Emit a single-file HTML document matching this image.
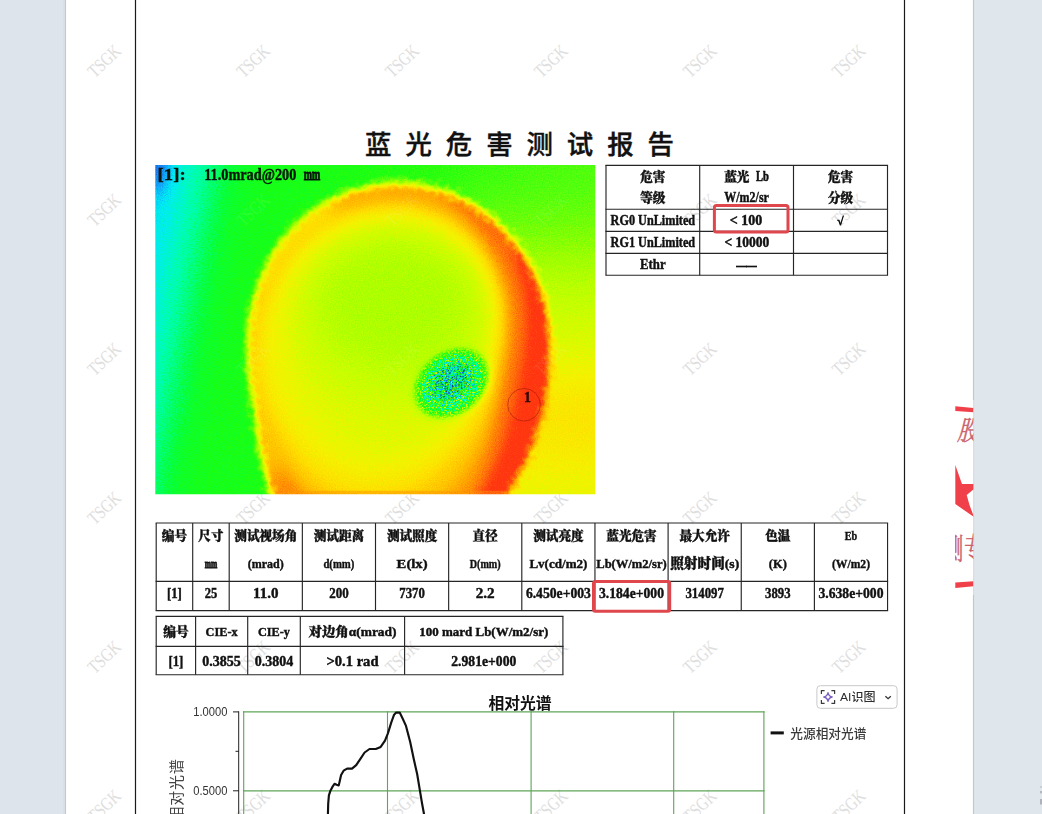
<!DOCTYPE html>
<html lang="zh-CN"><head><meta charset="utf-8"><title>蓝光危害测试报告</title>
<style>html,body{margin:0;padding:0;background:#dee4ec;}body{width:1042px;height:814px;overflow:hidden;position:relative;}svg{display:block;position:absolute;left:0;top:0;}text{white-space:pre;}</style></head><body>
<svg width="1042" height="814" viewBox="0 0 1042 814">

<rect x="0" y="0" width="1042" height="814" fill="#dee4ec"/>
<rect x="974" y="0" width="68" height="814" fill="#dfe6ec"/>
<rect x="63" y="0" width="2" height="814" fill="#dae0e6"/>
<rect x="64.9" y="0" width="1.2" height="814" fill="#c4cad0"/>
<rect x="66.1" y="0" width="906.9" height="814" fill="#ffffff"/>
<rect x="972.9" y="0" width="1.2" height="814" fill="#c0c8ca"/>
<rect x="1040" y="786" width="2" height="2" fill="#c9cdd4"/><rect x="1040" y="791" width="2" height="2.4" fill="#b3b8c0"/><rect x="1040" y="799" width="2" height="5.5" fill="#aeb3bb"/>
<line x1="135.5" y1="0" x2="135.5" y2="814" stroke="#1a1a1a" stroke-width="1.2"/>
<line x1="904.5" y1="0" x2="904.5" y2="814" stroke="#1a1a1a" stroke-width="1.2"/>
<g font-family='"Liberation Serif","Noto Serif CJK SC",serif' font-size="18.6" fill="#dedede" text-anchor="middle">
<text transform="translate(104.2,61.0) rotate(-43.5) scale(0.78,1)" y="6.2">TSGK</text>
<text transform="translate(253.1,61.0) rotate(-43.5) scale(0.78,1)" y="6.2">TSGK</text>
<text transform="translate(402.0,61.0) rotate(-43.5) scale(0.78,1)" y="6.2">TSGK</text>
<text transform="translate(550.9,61.0) rotate(-43.5) scale(0.78,1)" y="6.2">TSGK</text>
<text transform="translate(699.8,61.0) rotate(-43.5) scale(0.78,1)" y="6.2">TSGK</text>
<text transform="translate(848.7,61.0) rotate(-43.5) scale(0.78,1)" y="6.2">TSGK</text>
<text transform="translate(104.2,210.0) rotate(-43.5) scale(0.78,1)" y="6.2">TSGK</text>
<text transform="translate(253.1,210.0) rotate(-43.5) scale(0.78,1)" y="6.2">TSGK</text>
<text transform="translate(402.0,210.0) rotate(-43.5) scale(0.78,1)" y="6.2">TSGK</text>
<text transform="translate(550.9,210.0) rotate(-43.5) scale(0.78,1)" y="6.2">TSGK</text>
<text transform="translate(699.8,210.0) rotate(-43.5) scale(0.78,1)" y="6.2">TSGK</text>
<text transform="translate(848.7,210.0) rotate(-43.5) scale(0.78,1)" y="6.2">TSGK</text>
<text transform="translate(104.2,359.0) rotate(-43.5) scale(0.78,1)" y="6.2">TSGK</text>
<text transform="translate(253.1,359.0) rotate(-43.5) scale(0.78,1)" y="6.2">TSGK</text>
<text transform="translate(402.0,359.0) rotate(-43.5) scale(0.78,1)" y="6.2">TSGK</text>
<text transform="translate(550.9,359.0) rotate(-43.5) scale(0.78,1)" y="6.2">TSGK</text>
<text transform="translate(699.8,359.0) rotate(-43.5) scale(0.78,1)" y="6.2">TSGK</text>
<text transform="translate(848.7,359.0) rotate(-43.5) scale(0.78,1)" y="6.2">TSGK</text>
<text transform="translate(104.2,508.0) rotate(-43.5) scale(0.78,1)" y="6.2">TSGK</text>
<text transform="translate(253.1,508.0) rotate(-43.5) scale(0.78,1)" y="6.2">TSGK</text>
<text transform="translate(402.0,508.0) rotate(-43.5) scale(0.78,1)" y="6.2">TSGK</text>
<text transform="translate(550.9,508.0) rotate(-43.5) scale(0.78,1)" y="6.2">TSGK</text>
<text transform="translate(699.8,508.0) rotate(-43.5) scale(0.78,1)" y="6.2">TSGK</text>
<text transform="translate(848.7,508.0) rotate(-43.5) scale(0.78,1)" y="6.2">TSGK</text>
<text transform="translate(104.2,657.0) rotate(-43.5) scale(0.78,1)" y="6.2">TSGK</text>
<text transform="translate(253.1,657.0) rotate(-43.5) scale(0.78,1)" y="6.2">TSGK</text>
<text transform="translate(402.0,657.0) rotate(-43.5) scale(0.78,1)" y="6.2">TSGK</text>
<text transform="translate(550.9,657.0) rotate(-43.5) scale(0.78,1)" y="6.2">TSGK</text>
<text transform="translate(699.8,657.0) rotate(-43.5) scale(0.78,1)" y="6.2">TSGK</text>
<text transform="translate(848.7,657.0) rotate(-43.5) scale(0.78,1)" y="6.2">TSGK</text>
<text transform="translate(104.2,806.0) rotate(-43.5) scale(0.78,1)" y="6.2">TSGK</text>
<text transform="translate(253.1,806.0) rotate(-43.5) scale(0.78,1)" y="6.2">TSGK</text>
<text transform="translate(402.0,806.0) rotate(-43.5) scale(0.78,1)" y="6.2">TSGK</text>
<text transform="translate(550.9,806.0) rotate(-43.5) scale(0.78,1)" y="6.2">TSGK</text>
<text transform="translate(699.8,806.0) rotate(-43.5) scale(0.78,1)" y="6.2">TSGK</text>
<text transform="translate(848.7,806.0) rotate(-43.5) scale(0.78,1)" y="6.2">TSGK</text>
</g>
<text x="378.3" y="154" font-family='"Liberation Sans","Noto Sans CJK SC",sans-serif' font-size="26.4" font-weight="500" text-anchor="middle" fill="#111" stroke="#111" stroke-width="0.4">蓝</text>
<text x="418.7" y="154" font-family='"Liberation Sans","Noto Sans CJK SC",sans-serif' font-size="26.4" font-weight="500" text-anchor="middle" fill="#111" stroke="#111" stroke-width="0.4">光</text>
<text x="459.0" y="154" font-family='"Liberation Sans","Noto Sans CJK SC",sans-serif' font-size="26.4" font-weight="500" text-anchor="middle" fill="#111" stroke="#111" stroke-width="0.4">危</text>
<text x="499.4" y="154" font-family='"Liberation Sans","Noto Sans CJK SC",sans-serif' font-size="26.4" font-weight="500" text-anchor="middle" fill="#111" stroke="#111" stroke-width="0.4">害</text>
<text x="539.7" y="154" font-family='"Liberation Sans","Noto Sans CJK SC",sans-serif' font-size="26.4" font-weight="500" text-anchor="middle" fill="#111" stroke="#111" stroke-width="0.4">测</text>
<text x="580.0" y="154" font-family='"Liberation Sans","Noto Sans CJK SC",sans-serif' font-size="26.4" font-weight="500" text-anchor="middle" fill="#111" stroke="#111" stroke-width="0.4">试</text>
<text x="620.4" y="154" font-family='"Liberation Sans","Noto Sans CJK SC",sans-serif' font-size="26.4" font-weight="500" text-anchor="middle" fill="#111" stroke="#111" stroke-width="0.4">报</text>
<text x="660.8" y="154" font-family='"Liberation Sans","Noto Sans CJK SC",sans-serif' font-size="26.4" font-weight="500" text-anchor="middle" fill="#111" stroke="#111" stroke-width="0.4">告</text>
<svg x="155.3" y="165" width="440" height="329.2" viewBox="0 0 440 329" preserveAspectRatio="none" overflow="hidden">
<defs>
<linearGradient id="hbg" gradientUnits="userSpaceOnUse" x1="0" y1="0" x2="440" y2="84">
 <stop offset="0" stop-color="#242424"/>
 <stop offset="0.022" stop-color="#262626"/>
 <stop offset="0.055" stop-color="#2b2b2b"/>
 <stop offset="0.099" stop-color="#383838"/>
 <stop offset="0.143" stop-color="#464646"/>
 <stop offset="0.186" stop-color="#525252"/>
 <stop offset="0.23" stop-color="#575757"/>
 <stop offset="0.33" stop-color="#595959"/>
 <stop offset="0.55" stop-color="#5e5e5e"/>
 <stop offset="0.83" stop-color="#6a6a6a"/>
 <stop offset="1" stop-color="#6e6e6e"/>
</linearGradient>
<linearGradient id="eggfill" gradientUnits="userSpaceOnUse" x1="92" y1="0" x2="394" y2="0">
 <stop offset="0" stop-color="#c3c3c3"/>
 <stop offset="0.3" stop-color="#cccccc"/>
 <stop offset="0.55" stop-color="#d2d2d2"/>
 <stop offset="1" stop-color="#dbdbdb"/>
</linearGradient>
<linearGradient id="hright" x1="0" y1="0" x2="0" y2="1">
 <stop offset="0" stop-color="#6e6e6e" stop-opacity="0"/>
 <stop offset="0.11" stop-color="#787878" stop-opacity="0.6"/>
 <stop offset="0.26" stop-color="#8c8c8c"/>
 <stop offset="0.36" stop-color="#969696"/>
 <stop offset="0.44" stop-color="#9e9e9e"/>
 <stop offset="0.56" stop-color="#b2b2b2"/>
 <stop offset="0.66" stop-color="#b0b0b0"/>
 <stop offset="0.78" stop-color="#a3a3a3"/>
</linearGradient>
<radialGradient id="hblue">
 <stop offset="0" stop-color="#000000"/>
 <stop offset="0.3" stop-color="#080808" stop-opacity="0.95"/>
 <stop offset="0.65" stop-color="#1a1a1a" stop-opacity="0.5"/>
 <stop offset="1" stop-color="#262626" stop-opacity="0"/>
</radialGradient>
<radialGradient id="spotfade">
 <stop offset="0" stop-color="#000" stop-opacity="1"/>
 <stop offset="0.55" stop-color="#000" stop-opacity="0.95"/>
 <stop offset="0.8" stop-color="#000" stop-opacity="0.55"/>
 <stop offset="1" stop-color="#000" stop-opacity="0"/>
</radialGradient>
<filter id="b15" x="-10%" y="-10%" width="120%" height="120%" color-interpolation-filters="sRGB"><feGaussianBlur stdDeviation="1.5"/></filter><filter id="b3" x="-20%" y="-20%" width="140%" height="140%" color-interpolation-filters="sRGB"><feGaussianBlur stdDeviation="3"/></filter><filter id="b5" x="-30%" y="-30%" width="160%" height="160%" color-interpolation-filters="sRGB"><feGaussianBlur stdDeviation="5"/></filter><filter id="b7" x="-30%" y="-30%" width="160%" height="160%" color-interpolation-filters="sRGB"><feGaussianBlur stdDeviation="7"/></filter><filter id="b10" x="-40%" y="-40%" width="180%" height="180%" color-interpolation-filters="sRGB"><feGaussianBlur stdDeviation="10"/></filter><filter id="b16" x="-50%" y="-50%" width="200%" height="200%" color-interpolation-filters="sRGB"><feGaussianBlur stdDeviation="16"/></filter><filter id="b22" x="-60%" y="-60%" width="220%" height="220%" color-interpolation-filters="sRGB"><feGaussianBlur stdDeviation="22"/></filter>
<filter id="rough" filterUnits="userSpaceOnUse" x="60" y="-10" width="370" height="450" color-interpolation-filters="sRGB">
 <feTurbulence type="fractalNoise" baseFrequency="0.9" numOctaves="1" seed="7" result="n"/>
 <feDisplacementMap in="SourceGraphic" in2="n" scale="34" xChannelSelector="R" yChannelSelector="G"/>
 <feGaussianBlur stdDeviation="1.7"/>
</filter>
<filter id="spotnoise" x="-10%" y="-10%" width="120%" height="120%" color-interpolation-filters="sRGB">
 <feTurbulence type="fractalNoise" baseFrequency="0.72" numOctaves="2" seed="11" result="n"/>
 <feColorMatrix in="n" type="matrix" values="2.7 0 0 0 -1.05  2.7 0 0 0 -1.05  2.7 0 0 0 -1.05  0 0 0 0 1" result="c"/>
 <feComposite in="c" in2="SourceGraphic" operator="in"/>
</filter>
<filter id="spotnoise2" x="-10%" y="-10%" width="120%" height="120%" color-interpolation-filters="sRGB">
 <feTurbulence type="fractalNoise" baseFrequency="0.8" numOctaves="2" seed="29" result="n"/>
 <feColorMatrix in="n" type="matrix" values="0 2.6 0 0 -1.12  0 2.6 0 0 -1.12  0 2.6 0 0 -1.12  0 0 0 0 1" result="c"/>
 <feComposite in="c" in2="SourceGraphic" operator="in"/>
</filter>
<filter id="darkspeck" x="-10%" y="-10%" width="120%" height="120%" color-interpolation-filters="sRGB">
 <feTurbulence type="fractalNoise" baseFrequency="0.85" numOctaves="2" seed="41" result="n"/>
 <feColorMatrix in="n" type="matrix" values="0 0 0 0 0.05  0 0 0 0 0.22  0 0 0 0 0.34  0 0 9 0 -5.0" result="c"/>
 <feComposite in="c" in2="SourceGraphic" operator="in"/>
</filter>
<filter id="jet" filterUnits="userSpaceOnUse" x="0" y="0" width="440" height="329" color-interpolation-filters="sRGB">
 <feTurbulence type="fractalNoise" baseFrequency="0.85" numOctaves="1" seed="4" result="n"/>
 <feColorMatrix in="n" type="matrix" values="1 0 0 0 0  1 0 0 0 0  1 0 0 0 0  0 0 0 0 1" result="ng"/>
 <feComposite in="SourceGraphic" in2="ng" operator="arithmetic" k1="0" k2="1" k3="0.11" k4="-0.055" result="f"/>
 <feComponentTransfer in="f">
  <feFuncR type="table" tableValues="0.125 0.110 0.094 0.078 0.063 0.042 0.021 0.000 0.000 0.000 0.000 0.000 0.008 0.016 0.024 0.031 0.058 0.084 0.110 0.171 0.231 0.292 0.353 0.422 0.490 0.559 0.627 0.680 0.732 0.784 0.830 0.876 0.922 0.960 0.973 0.987 1.000 1.000 1.000 1.000 1.000 1.000 1.000 1.000 1.000 1.000 1.000 1.000 1.000 1.000 1.000"/>
  <feFuncG type="table" tableValues="0.376 0.449 0.522 0.594 0.667 0.753 0.839 0.925 0.944 0.963 0.981 1.000 1.000 1.000 1.000 1.000 1.000 1.000 1.000 1.000 1.000 1.000 1.000 1.000 1.000 1.000 1.000 1.000 1.000 1.000 0.988 0.977 0.965 0.950 0.921 0.892 0.863 0.824 0.784 0.745 0.706 0.667 0.627 0.569 0.510 0.451 0.392 0.345 0.298 0.251 0.204"/>
  <feFuncB type="table" tableValues="0.910 0.925 0.941 0.957 0.973 0.967 0.962 0.957 0.884 0.812 0.739 0.667 0.555 0.443 0.331 0.220 0.167 0.115 0.063 0.059 0.055 0.051 0.047 0.035 0.024 0.012 0.000 0.000 0.000 0.000 0.000 0.000 0.000 0.000 0.000 0.000 0.000 0.000 0.000 0.000 0.000 0.000 0.000 0.012 0.024 0.035 0.047 0.051 0.055 0.059 0.063"/>
 </feComponentTransfer>
</filter>
<clipPath id="eggclip"><path d="M93.5,205.0 C92.5,193.8 92.7,199.5 92.4,188.0 C92.1,176.6 91.9,182.3 92.5,170.7 C93.2,159.0 92.5,164.8 94.3,153.0 C96.2,141.1 94.9,147.0 98.0,135.2 C101.0,123.3 99.1,129.1 103.5,117.3 C107.8,105.5 105.3,111.3 111.0,99.7 C116.7,88.2 113.4,93.7 120.7,82.7 C128.0,71.8 124.0,76.8 132.8,66.9 C141.7,56.9 137.0,61.4 147.3,52.8 C157.7,44.1 152.3,48.0 164.0,40.9 C175.6,33.8 169.7,36.9 182.3,31.4 C194.9,26.0 188.5,28.2 201.8,24.5 C215.1,20.7 208.4,22.0 222.2,20.1 C235.9,18.1 229.1,18.6 243.0,18.6 C256.9,18.6 250.1,18.1 263.8,20.1 C277.5,22.2 270.9,20.7 284.1,24.8 C297.3,28.8 291.0,26.4 303.4,32.3 C315.8,38.2 310.0,34.9 321.3,42.4 C332.7,49.8 327.3,45.9 337.5,54.6 C347.6,63.4 342.9,58.8 351.8,68.6 C360.6,78.4 356.5,73.4 364.0,84.0 C371.5,94.6 368.1,89.2 374.2,100.4 C380.2,111.6 377.5,106.0 382.2,117.5 C386.9,129.1 384.9,123.3 388.2,135.1 C391.5,146.9 390.1,141.0 392.1,152.8 C394.2,164.6 393.4,158.8 394.3,170.5 C395.2,182.2 395.0,176.4 394.9,187.9 C394.8,199.4 395.0,193.7 394.1,205.0 C393.2,216.3 393.8,210.7 392.2,221.8 C390.6,232.9 391.6,227.4 389.3,238.4 C387.0,249.4 388.3,243.9 385.4,254.8 C382.4,265.8 384.1,260.3 380.5,271.2 C376.8,282.1 378.9,276.7 374.4,287.5 C369.9,298.4 372.4,293.0 366.9,303.8 C361.5,314.7 364.5,309.3 358.0,320.0 C351.5,330.7 355.1,325.5 347.4,335.9 C339.7,346.3 343.9,341.3 334.9,351.3 C326.0,361.3 330.8,356.6 320.5,365.9 C310.2,375.3 315.7,371.0 304.0,379.3 C292.3,387.6 298.4,384.0 285.4,390.9 C272.4,397.8 279.1,395.0 265.0,399.9 C250.8,404.8 257.9,403.2 243.0,405.6 C228.1,408.0 235.4,407.7 220.2,407.2 C205.1,406.8 212.3,407.8 197.5,404.3 C182.8,400.7 189.6,403.2 176.0,396.6 C162.3,390.0 168.5,393.8 156.5,384.5 C144.6,375.2 149.9,380.1 140.1,368.8 C130.3,357.4 134.6,363.1 127.0,350.4 C119.4,337.7 122.8,343.9 117.3,330.7 C111.8,317.4 114.3,323.8 110.5,310.6 C106.7,297.5 108.5,303.8 105.9,291.1 C103.3,278.4 104.6,284.6 102.7,272.6 C100.7,260.5 101.7,266.5 100.0,255.0 C98.4,243.6 99.2,249.3 97.6,238.2 C96.1,227.0 96.8,232.7 95.4,221.6 C94.0,210.6 94.5,216.2 93.5,205.0 Z"/></clipPath>
</defs>
<g filter="url(#jet)">
<rect x="-5" y="-5" width="450" height="340" fill="url(#hbg)"/>
<rect x="305" y="0" width="200" height="420" fill="url(#hright)" filter="url(#b16)"/>
<ellipse cx="0" cy="2" rx="27" ry="50" fill="url(#hblue)"/>
<ellipse cx="-8" cy="30" rx="20" ry="58" fill="#1c1c1c" opacity="0.25" filter="url(#b10)"/>
<g filter="url(#rough)">
<path d="M93.5,205.0 C92.5,193.8 92.7,199.5 92.4,188.0 C92.1,176.6 91.9,182.3 92.5,170.7 C93.2,159.0 92.5,164.8 94.3,153.0 C96.2,141.1 94.9,147.0 98.0,135.2 C101.0,123.3 99.1,129.1 103.5,117.3 C107.8,105.5 105.3,111.3 111.0,99.7 C116.7,88.2 113.4,93.7 120.7,82.7 C128.0,71.8 124.0,76.8 132.8,66.9 C141.7,56.9 137.0,61.4 147.3,52.8 C157.7,44.1 152.3,48.0 164.0,40.9 C175.6,33.8 169.7,36.9 182.3,31.4 C194.9,26.0 188.5,28.2 201.8,24.5 C215.1,20.7 208.4,22.0 222.2,20.1 C235.9,18.1 229.1,18.6 243.0,18.6 C256.9,18.6 250.1,18.1 263.8,20.1 C277.5,22.2 270.9,20.7 284.1,24.8 C297.3,28.8 291.0,26.4 303.4,32.3 C315.8,38.2 310.0,34.9 321.3,42.4 C332.7,49.8 327.3,45.9 337.5,54.6 C347.6,63.4 342.9,58.8 351.8,68.6 C360.6,78.4 356.5,73.4 364.0,84.0 C371.5,94.6 368.1,89.2 374.2,100.4 C380.2,111.6 377.5,106.0 382.2,117.5 C386.9,129.1 384.9,123.3 388.2,135.1 C391.5,146.9 390.1,141.0 392.1,152.8 C394.2,164.6 393.4,158.8 394.3,170.5 C395.2,182.2 395.0,176.4 394.9,187.9 C394.8,199.4 395.0,193.7 394.1,205.0 C393.2,216.3 393.8,210.7 392.2,221.8 C390.6,232.9 391.6,227.4 389.3,238.4 C387.0,249.4 388.3,243.9 385.4,254.8 C382.4,265.8 384.1,260.3 380.5,271.2 C376.8,282.1 378.9,276.7 374.4,287.5 C369.9,298.4 372.4,293.0 366.9,303.8 C361.5,314.7 364.5,309.3 358.0,320.0 C351.5,330.7 355.1,325.5 347.4,335.9 C339.7,346.3 343.9,341.3 334.9,351.3 C326.0,361.3 330.8,356.6 320.5,365.9 C310.2,375.3 315.7,371.0 304.0,379.3 C292.3,387.6 298.4,384.0 285.4,390.9 C272.4,397.8 279.1,395.0 265.0,399.9 C250.8,404.8 257.9,403.2 243.0,405.6 C228.1,408.0 235.4,407.7 220.2,407.2 C205.1,406.8 212.3,407.8 197.5,404.3 C182.8,400.7 189.6,403.2 176.0,396.6 C162.3,390.0 168.5,393.8 156.5,384.5 C144.6,375.2 149.9,380.1 140.1,368.8 C130.3,357.4 134.6,363.1 127.0,350.4 C119.4,337.7 122.8,343.9 117.3,330.7 C111.8,317.4 114.3,323.8 110.5,310.6 C106.7,297.5 108.5,303.8 105.9,291.1 C103.3,278.4 104.6,284.6 102.7,272.6 C100.7,260.5 101.7,266.5 100.0,255.0 C98.4,243.6 99.2,249.3 97.6,238.2 C96.1,227.0 96.8,232.7 95.4,221.6 C94.0,210.6 94.5,216.2 93.5,205.0 Z" fill="url(#eggfill)"/>
<g clip-path="url(#eggclip)">
<path d="M285.5,18.9 C292.6,19.4 292.6,20.6 305.4,26.6 C318.2,32.6 312.2,29.3 323.9,37.0 C335.7,44.6 330.2,40.6 340.7,49.5 C351.2,58.5 346.3,53.9 355.5,63.9 C364.7,74.0 360.5,68.8 368.3,79.7 C376.0,90.7 372.5,85.1 378.9,96.7 C385.2,108.2 382.4,102.4 387.3,114.3 C392.2,126.3 390.1,120.3 393.6,132.5 C397.1,144.7 395.6,138.6 397.8,150.8 C400.0,163.0 399.1,157.0 400.2,169.1 C401.2,181.3 400.9,175.3 400.8,187.2 C400.8,199.2 401.0,193.2 400.1,205.0 C399.2,216.8 399.8,210.9 398.2,222.5 C396.5,234.1 397.5,228.3 395.1,239.7 C392.8,251.2 394.1,245.4 391.1,256.8 C388.0,268.2 389.7,262.5 385.9,273.8 C382.0,285.1 384.2,279.5 379.4,290.7 C374.7,302.0 377.4,296.4 371.6,307.6 C365.9,318.7 369.1,313.2 362.2,324.2 C355.4,335.2 359.2,329.9 351.1,340.6 C343.1,351.3 347.5,346.1 338.1,356.4 C328.8,366.6 333.8,361.8 323.1,371.3 C312.4,380.9 318.1,376.5 306.0,385.0 C293.9,393.5 300.2,389.8 286.8,396.7 C273.3,403.7 280.2,400.9 265.6,405.9 C251.0,410.8 258.4,409.2 243.0,411.6 C227.6,414.0 227.1,415.2 219.5,413.2 C212.0,411.1 212.6,411.0 220.4,405.4 C228.2,399.9 228.7,403.3 243.0,396.6 C257.3,389.8 250.6,393.6 263.3,385.2 C276.0,376.9 270.1,381.2 281.0,371.5 C291.9,361.8 286.9,366.7 295.9,356.2 C304.9,345.8 300.8,350.9 308.1,340.1 C315.4,329.4 312.0,334.6 317.7,323.9 C323.4,313.2 320.8,318.4 325.2,308.0 C329.5,297.7 327.5,302.7 330.8,292.8 C334.1,282.9 332.5,287.7 335.0,278.4 C337.4,269.0 336.3,273.6 338.1,264.8 C340.0,256.0 339.0,260.3 340.5,252.0 C342.0,243.7 341.3,247.8 342.6,239.8 C343.9,231.9 343.2,235.9 344.5,228.2 C345.9,220.4 345.2,224.4 346.5,216.7 C347.9,208.9 347.2,212.9 348.6,205.0 C349.9,197.1 349.3,201.2 350.6,192.9 C351.8,184.6 351.3,188.9 352.2,180.1 C353.1,171.3 352.9,175.8 353.2,166.4 C353.5,157.1 353.6,161.9 353.2,151.9 C352.7,142.0 353.3,147.1 351.8,136.7 C350.3,126.3 351.4,131.5 348.7,120.7 C346.0,110.0 347.7,115.3 343.6,104.4 C339.6,93.4 342.0,98.8 336.5,87.8 C330.9,76.8 334.1,82.2 327.0,71.4 C319.8,60.6 323.8,65.8 315.0,55.4 C306.2,45.1 311.0,50.4 300.6,40.3 C290.3,30.2 289.1,32.4 284.0,25.3 C279.0,18.2 278.3,18.5 285.5,18.9 Z" fill="#e8e8e8" filter="url(#b7)"/>
<path d="M368.3,79.7 C374.8,82.4 372.5,85.1 378.9,96.7 C385.2,108.2 382.4,102.4 387.3,114.3 C392.2,126.3 390.1,120.3 393.6,132.5 C397.1,144.7 395.6,138.6 397.8,150.8 C400.0,163.0 399.1,157.0 400.2,169.1 C401.2,181.3 400.9,175.3 400.8,187.2 C400.8,199.2 401.0,193.2 400.1,205.0 C399.2,216.8 399.8,210.9 398.2,222.5 C396.5,234.1 397.5,228.3 395.1,239.7 C392.8,251.2 394.1,245.4 391.1,256.8 C388.0,268.2 389.7,262.5 385.9,273.8 C382.0,285.1 384.2,279.5 379.4,290.7 C374.7,302.0 377.4,296.4 371.6,307.6 C365.9,318.7 369.1,313.2 362.2,324.2 C355.4,335.2 359.2,329.9 351.1,340.6 C343.1,351.3 347.5,346.1 338.1,356.4 C328.8,366.6 333.8,361.8 323.1,371.3 C312.4,380.9 318.1,376.5 306.0,385.0 C293.9,393.5 300.2,389.8 286.8,396.7 C273.3,403.7 280.2,400.9 265.6,405.9 C251.0,410.8 250.5,414.0 243.0,411.6 C235.5,409.2 236.1,406.4 243.0,398.7 C249.9,390.9 250.6,395.8 263.6,388.3 C276.7,380.7 270.6,384.7 282.0,375.9 C293.4,367.2 288.1,371.6 297.9,362.0 C307.8,352.4 303.2,357.2 311.5,347.2 C319.7,337.1 315.9,342.1 322.7,331.9 C329.5,321.7 326.4,326.7 332.0,316.5 C337.5,306.4 334.9,311.4 339.5,301.5 C344.0,291.6 341.9,296.4 345.6,286.8 C349.2,277.1 347.5,281.9 350.5,272.5 C353.5,263.2 352.1,267.8 354.6,258.7 C357.1,249.6 355.9,254.2 358.0,245.3 C360.2,236.3 359.1,240.8 361.1,232.0 C363.1,223.1 362.1,227.6 364.0,218.6 C365.8,209.6 365.0,214.3 366.6,205.0 C368.2,195.7 367.5,200.5 368.8,190.8 C370.1,181.1 369.7,186.1 370.4,175.9 C371.2,165.7 371.1,170.9 371.1,160.2 C371.1,149.4 371.4,154.9 370.5,143.6 C369.6,132.3 370.3,138.1 368.4,126.2 C366.4,114.4 367.6,120.5 364.6,108.1 C361.5,95.6 358.0,98.2 359.2,88.8 C360.5,79.3 361.7,77.1 368.3,79.7 Z" fill="#ffffff" filter="url(#b3)"/>
<ellipse cx="118" cy="92" rx="52" ry="78" transform="rotate(38 118 92)" fill="#b6b6b6" filter="url(#b10)"/>
<ellipse cx="100" cy="190" rx="22" ry="70" fill="#bebebe" filter="url(#b7)" opacity="0.8"/>
<ellipse cx="150" cy="348" rx="50" ry="52" fill="#dedede" filter="url(#b10)"/>
<path d="M98.5,205.0 C97.3,194.2 97.6,199.6 97.5,188.6 C97.4,177.6 97.1,183.1 98.1,171.9 C99.1,160.8 98.2,166.3 100.5,155.1 C102.8,144.0 101.3,149.5 104.8,138.5 C108.4,127.5 106.3,132.8 111.1,122.1 C115.8,111.4 113.1,116.5 119.2,106.2 C125.2,95.9 121.8,100.8 129.2,91.2 C136.6,81.6 132.6,86.0 141.3,77.5 C150.0,68.9 145.4,72.8 155.3,65.5 C165.3,58.2 160.2,61.5 171.1,55.6 C182.0,49.8 176.4,52.4 188.0,47.9 C199.6,43.5 193.8,45.3 205.9,42.3 C217.9,39.3 211.9,40.4 224.3,38.8 C236.7,37.2 230.5,37.4 243.0,37.6 C255.5,37.8 249.5,37.0 261.7,39.4 C273.8,41.8 268.1,40.1 279.6,44.8 C291.0,49.5 285.7,46.8 296.0,53.4 C306.4,60.1 301.7,56.5 310.5,64.7 C319.4,73.0 315.4,68.8 322.7,78.1 C330.0,87.5 326.8,82.8 332.4,92.9 C338.0,103.0 335.6,98.0 339.6,108.4 C343.6,118.8 341.9,113.7 344.5,124.1 C347.1,134.4 346.0,129.4 347.3,139.5 C348.6,149.5 348.1,144.7 348.4,154.3 C348.7,163.8 348.6,159.2 348.1,168.2 C347.7,177.2 347.9,172.8 347.1,181.2 C346.2,189.7 346.6,185.5 345.6,193.4 C344.6,201.4 345.1,197.4 344.1,205.0 C343.1,212.6 343.7,208.8 342.5,216.2 C341.3,223.6 341.9,219.9 340.4,227.2 C338.9,234.6 339.8,230.9 338.0,238.2 C336.2,245.6 337.2,241.9 335.1,249.3 C332.9,256.8 334.2,253.0 331.6,260.6 C328.9,268.3 330.4,264.4 327.2,272.2 C324.0,279.9 325.9,276.1 321.9,283.9 C318.0,291.8 320.2,287.9 315.5,295.9 C310.7,303.8 313.4,299.9 307.6,307.8 C301.8,315.6 305.0,311.9 298.1,319.4 C291.2,327.0 295.0,323.5 286.9,330.5 C278.8,337.4 283.1,334.4 273.9,340.3 C264.6,346.2 269.4,343.8 259.1,348.3 C248.8,352.7 254.1,351.0 243.0,353.6 C231.9,356.2 237.4,355.4 226.0,356.1 C214.5,356.9 220.1,357.1 208.6,355.8 C197.1,354.6 202.5,355.7 191.4,352.3 C180.3,349.0 185.5,351.1 175.3,345.6 C165.0,340.2 169.8,343.2 160.7,336.0 C151.6,328.8 155.8,332.6 148.1,324.1 C140.3,315.6 143.9,319.8 137.5,310.5 C131.0,301.2 134.1,305.8 128.7,296.1 C123.4,286.4 125.9,291.3 121.4,281.4 C116.9,271.5 119.1,276.5 115.1,266.6 C111.2,256.7 113.1,261.7 109.6,251.7 C106.1,241.7 107.7,246.8 104.8,236.5 C101.9,226.3 103.0,231.5 100.9,221.0 C98.8,210.5 99.6,215.8 98.5,205.0 Z" fill="#c2c2c2" filter="url(#b5)"/>
<path d="M104.5,205.0 C103.2,194.7 103.6,199.9 103.5,189.3 C103.3,178.7 103.1,184.0 104.0,173.3 C105.0,162.6 104.2,167.9 106.4,157.2 C108.6,146.5 107.2,151.8 110.6,141.2 C114.0,130.7 112.0,135.9 116.6,125.6 C121.3,115.3 118.6,120.3 124.5,110.5 C130.3,100.7 127.0,105.3 134.2,96.2 C141.3,87.0 137.4,91.2 145.8,83.1 C154.2,75.0 149.8,78.7 159.3,71.8 C168.8,64.9 163.9,68.0 174.4,62.5 C184.8,57.0 179.5,59.4 190.6,55.3 C201.7,51.1 196.1,52.9 207.6,50.0 C219.1,47.2 213.4,48.2 225.2,46.7 C237.0,45.3 231.1,45.4 243.0,45.6 C254.9,45.8 249.2,45.0 260.8,47.4 C272.3,49.8 266.9,48.1 277.7,52.8 C288.6,57.4 283.6,54.8 293.3,61.4 C302.9,68.0 298.5,64.5 306.7,72.6 C314.9,80.8 311.3,76.6 317.9,85.9 C324.4,95.1 321.6,90.5 326.4,100.4 C331.3,110.2 329.3,105.4 332.5,115.5 C335.8,125.5 334.5,120.6 336.3,130.6 C338.2,140.5 337.5,135.7 338.1,145.2 C338.7,154.8 338.5,150.2 338.2,159.1 C338.0,168.1 338.1,163.8 337.2,172.0 C336.3,180.3 336.7,176.3 335.6,183.9 C334.4,191.5 334.9,187.7 333.7,194.8 C332.6,201.8 333.2,198.3 332.1,205.0 C331.0,211.7 331.7,208.4 330.4,214.8 C329.0,221.3 329.8,218.1 328.1,224.4 C326.3,230.7 327.3,227.6 325.2,233.8 C323.2,240.0 324.3,236.9 321.9,243.0 C319.5,249.1 320.8,246.0 318.0,252.1 C315.3,258.3 316.8,255.2 313.6,261.3 C310.4,267.4 312.2,264.3 308.5,270.5 C304.8,276.7 306.9,273.6 302.6,279.8 C298.4,286.0 300.7,282.9 295.8,289.1 C291.0,295.3 293.6,292.3 288.0,298.4 C282.3,304.5 285.4,301.6 278.8,307.4 C272.2,313.1 275.8,310.5 268.2,315.6 C260.7,320.7 264.7,318.6 256.3,322.6 C247.8,326.6 252.1,324.9 243.0,327.6 C233.9,330.2 238.5,329.2 228.9,330.5 C219.2,331.8 224.0,331.7 214.1,331.4 C204.3,331.2 209.0,331.8 199.3,329.9 C189.6,327.9 194.2,329.3 184.9,325.6 C175.7,321.9 180.0,324.1 171.5,318.8 C163.0,313.5 167.0,316.3 159.4,309.8 C151.8,303.3 155.4,306.6 148.8,299.2 C142.1,291.8 145.3,295.6 139.5,287.5 C133.7,279.5 136.5,283.6 131.3,275.2 C126.1,266.8 128.6,271.1 123.9,262.3 C119.3,253.6 121.4,258.1 117.3,249.0 C113.2,239.9 115.0,244.5 111.6,235.0 C108.2,225.4 109.5,230.3 107.1,220.3 C104.7,210.3 105.7,215.3 104.5,205.0 Z" fill="#b2b2b2" filter="url(#b7)"/>
<path d="M112.5,205.0 C111.2,195.3 111.6,200.2 111.4,190.2 C111.2,180.2 111.0,185.2 111.8,175.1 C112.7,164.9 111.9,170.0 113.9,159.8 C115.9,149.7 114.6,154.7 117.8,144.7 C121.0,134.7 119.1,139.6 123.4,129.9 C127.7,120.1 125.3,124.8 130.7,115.5 C136.2,106.1 133.1,110.5 139.8,101.8 C146.5,93.1 142.9,97.1 150.8,89.4 C158.7,81.6 154.5,85.1 163.6,78.6 C172.6,72.0 168.0,75.0 177.9,69.7 C187.8,64.5 182.7,66.8 193.3,62.8 C203.8,58.9 198.5,60.5 209.4,57.8 C220.3,55.1 214.9,56.1 226.1,54.7 C237.3,53.3 231.7,53.3 243.0,53.6 C254.3,53.8 248.9,53.0 259.9,55.4 C270.8,57.8 265.7,56.1 275.9,60.8 C286.1,65.4 281.5,62.8 290.5,69.3 C299.5,75.9 295.4,72.4 302.9,80.5 C310.5,88.6 307.2,84.5 313.0,93.6 C318.8,102.7 316.3,98.2 320.5,107.8 C324.6,117.5 322.9,112.8 325.5,122.5 C328.0,132.3 327.0,127.6 328.2,137.1 C329.3,146.6 328.9,142.0 328.9,151.0 C328.9,160.0 329.0,155.7 328.1,164.0 C327.2,172.3 327.7,168.4 326.3,175.8 C325.0,183.3 325.5,179.7 324.0,186.5 C322.6,193.3 323.1,190.0 321.8,196.1 C320.5,202.3 321.3,199.2 320.1,205.0 C318.9,210.8 319.8,208.0 318.2,213.5 C316.7,219.0 317.6,216.3 315.5,221.5 C313.4,226.8 314.5,224.2 312.0,229.2 C309.5,234.1 310.8,231.7 308.0,236.3 C305.2,240.9 306.7,238.7 303.6,243.1 C300.5,247.4 302.1,245.3 298.8,249.5 C295.4,253.7 297.1,251.5 293.7,255.7 C290.2,259.8 292.0,257.7 288.3,261.8 C284.6,265.9 286.6,263.8 282.6,268.0 C278.6,272.2 280.8,270.1 276.4,274.4 C272.1,278.7 274.4,276.6 269.6,280.9 C264.7,285.2 267.3,283.2 261.8,287.2 C256.2,291.3 259.2,289.6 252.9,293.0 C246.7,296.5 249.9,294.9 243.0,297.6 C236.1,300.3 239.7,299.1 232.2,301.0 C224.7,302.9 228.5,302.3 220.6,303.3 C212.7,304.2 216.6,304.1 208.4,303.8 C200.3,303.5 204.2,304.0 196.1,302.3 C188.0,300.6 191.9,301.7 184.1,298.7 C176.4,295.6 180.1,297.3 172.8,293.0 C165.5,288.8 169.0,291.1 162.2,285.8 C155.4,280.5 158.7,283.3 152.4,277.2 C146.1,271.2 149.2,274.3 143.3,267.6 C137.5,260.9 140.3,264.4 134.9,257.1 C129.5,249.7 131.9,253.6 127.1,245.5 C122.3,237.5 124.4,241.7 120.5,233.0 C116.5,224.3 118.0,228.7 115.4,219.4 C112.7,210.1 113.8,214.7 112.5,205.0 Z" fill="#a7a7a7" filter="url(#b10)"/>
<ellipse cx="232" cy="190" rx="92" ry="105" fill="#9e9e9e" filter="url(#b16)"/>
<ellipse cx="238" cy="152" rx="98" ry="90" fill="#959595" filter="url(#b16)"/>
<ellipse cx="238" cy="140" rx="74" ry="62" fill="#8a8a8a" filter="url(#b16)"/>
</g>
</g>
<rect x="120" y="325.5" width="232" height="4" fill="#dbdbdb" opacity="0.55" clip-path="url(#eggclip)"/>
<g transform="rotate(-38 296 218)">
<ellipse cx="296" cy="218" rx="41" ry="31" fill="#808080" filter="url(#b5)"/>
<ellipse cx="296" cy="218" rx="32" ry="24" fill="#545454" filter="url(#b5)" opacity="0.9"/>
<ellipse cx="296" cy="218" rx="43" ry="33" fill="url(#spotfade)" filter="url(#spotnoise)"/>
<ellipse cx="297" cy="216" rx="24" ry="17" fill="url(#spotfade)" filter="url(#spotnoise2)" opacity="0.85"/>
</g>
</g>
<g transform="rotate(-38 296 218)"><ellipse cx="297" cy="216" rx="27" ry="19" fill="url(#spotfade)" filter="url(#darkspeck)"/></g>
<g font-family='"Liberation Serif","Noto Serif CJK SC",serif' font-size="18.6" fill="#fff" text-anchor="middle" opacity="0.09">
<text transform="translate(97.8,45) rotate(-43.5) scale(0.78,1)" y="6.2">TSGK</text>
<text transform="translate(246.7,45) rotate(-43.5) scale(0.78,1)" y="6.2">TSGK</text>
<text transform="translate(395.6,45) rotate(-43.5) scale(0.78,1)" y="6.2">TSGK</text>
<text transform="translate(97.8,194) rotate(-43.5) scale(0.78,1)" y="6.2">TSGK</text>
<text transform="translate(246.7,194) rotate(-43.5) scale(0.78,1)" y="6.2">TSGK</text>
<text transform="translate(395.6,194) rotate(-43.5) scale(0.78,1)" y="6.2">TSGK</text>
</g>
<circle cx="368.7" cy="239.6" r="16.3" fill="none" stroke="#8c1408" stroke-width="0.9" opacity="0.55"/>
<text x="372.3" y="236.5" font-family='"Liberation Serif","Noto Serif CJK SC",serif' font-size="14" font-weight="bold" text-anchor="middle" fill="#2a0a08" stroke="#2a0a08" stroke-width="0.4">1</text>
<text x="2.3" y="14.5" font-family='"Liberation Serif","Noto Serif CJK SC",serif' font-size="16" font-weight="bold" fill="#06140a" stroke="#06140a" stroke-width="0.35" textLength="28" lengthAdjust="spacingAndGlyphs">[1]:</text>
<text x="49" y="14.5" font-family='"Liberation Serif","Noto Serif CJK SC",serif' font-size="16" font-weight="bold" fill="#06140a" stroke="#06140a" stroke-width="0.35" textLength="92" lengthAdjust="spacingAndGlyphs">11.0mrad@200</text>
<text x="148.5" y="14.5" font-family='"Liberation Serif","Noto Serif CJK SC",serif' font-size="16" font-weight="bold" fill="#06140a" stroke="#06140a" stroke-width="0.35" textLength="16.5" lengthAdjust="spacingAndGlyphs" style="stroke-width:0.9">mm</text>
</svg>
<line x1="605.425" y1="165.3" x2="888.075" y2="165.3" stroke="#262626" stroke-width="1.15"/>
<line x1="605.425" y1="209.2" x2="888.075" y2="209.2" stroke="#262626" stroke-width="1.15"/>
<line x1="605.425" y1="231.4" x2="888.075" y2="231.4" stroke="#262626" stroke-width="1.15"/>
<line x1="605.425" y1="253.3" x2="888.075" y2="253.3" stroke="#262626" stroke-width="1.15"/>
<line x1="605.425" y1="275.2" x2="888.075" y2="275.2" stroke="#262626" stroke-width="1.15"/>
<line x1="606" y1="165.3" x2="606" y2="275.2" stroke="#262626" stroke-width="1.15"/>
<line x1="699.7" y1="165.3" x2="699.7" y2="275.2" stroke="#262626" stroke-width="1.15"/>
<line x1="793.5" y1="165.3" x2="793.5" y2="275.2" stroke="#262626" stroke-width="1.15"/>
<line x1="887.5" y1="165.3" x2="887.5" y2="275.2" stroke="#262626" stroke-width="1.15"/>
<text x="652.85" y="181.2" font-family='"Liberation Serif","Noto Serif CJK SC",serif' font-size="12.6" font-weight="900" text-anchor="middle" fill="#111" stroke="#111" stroke-width="0.42">危害</text>
<text x="652.85" y="202.1" font-family='"Liberation Serif","Noto Serif CJK SC",serif' font-size="12.6" font-weight="900" text-anchor="middle" fill="#111" stroke="#111" stroke-width="0.42">等级</text>
<text x="736.8" y="181.2" font-family='"Liberation Serif","Noto Serif CJK SC",serif' font-size="12.6" font-weight="900" text-anchor="middle" fill="#111" stroke="#111" stroke-width="0.42">蓝光</text>
<text x="762.4" y="181.2" font-family='"Liberation Serif","Noto Serif CJK SC",serif' font-size="13.6" font-weight="900" text-anchor="middle" fill="#111" textLength="12.8" lengthAdjust="spacingAndGlyphs" stroke="#111" stroke-width="0.6">Lb</text>
<text x="746.6" y="202.1" font-family='"Liberation Serif","Noto Serif CJK SC",serif' font-size="13.6" font-weight="900" text-anchor="middle" fill="#111" textLength="44.5" lengthAdjust="spacingAndGlyphs" stroke="#111" stroke-width="0.42">W/m2/sr</text>
<text x="840.5" y="181.2" font-family='"Liberation Serif","Noto Serif CJK SC",serif' font-size="12.6" font-weight="900" text-anchor="middle" fill="#111" stroke="#111" stroke-width="0.42">危害</text>
<text x="840.5" y="202.1" font-family='"Liberation Serif","Noto Serif CJK SC",serif' font-size="12.6" font-weight="900" text-anchor="middle" fill="#111" stroke="#111" stroke-width="0.42">分级</text>
<text x="652.85" y="225.0" font-family='"Liberation Serif","Noto Serif CJK SC",serif' font-size="13.6" font-weight="900" text-anchor="middle" fill="#111" textLength="84.5" lengthAdjust="spacingAndGlyphs" stroke="#111" stroke-width="0.42">RG0 UnLimited</text>
<text x="652.85" y="247.1" font-family='"Liberation Serif","Noto Serif CJK SC",serif' font-size="13.6" font-weight="900" text-anchor="middle" fill="#111" textLength="84.5" lengthAdjust="spacingAndGlyphs" stroke="#111" stroke-width="0.42">RG1 UnLimited</text>
<text x="652.85" y="268.9" font-family='"Liberation Serif","Noto Serif CJK SC",serif' font-size="13.6" font-weight="900" text-anchor="middle" fill="#111" textLength="25.5" lengthAdjust="spacingAndGlyphs" stroke="#111" stroke-width="0.42">Ethr</text>
<text x="746.1" y="225.0" font-family='"Liberation Serif","Noto Serif CJK SC",serif' font-size="13.6" font-weight="900" text-anchor="middle" fill="#111" textLength="32.5" lengthAdjust="spacingAndGlyphs" stroke="#111" stroke-width="0.42">&lt; 100</text>
<text x="746.9" y="247.1" font-family='"Liberation Serif","Noto Serif CJK SC",serif' font-size="13.6" font-weight="900" text-anchor="middle" fill="#111" textLength="45" lengthAdjust="spacingAndGlyphs" stroke="#111" stroke-width="0.42">&lt; 10000</text>
<text x="746.6" y="268.7" font-family='"Liberation Serif","Noto Serif CJK SC",serif' font-size="10" font-weight="900" text-anchor="middle" fill="#111" textLength="20" lengthAdjust="spacingAndGlyphs" stroke="#111" stroke-width="0.9">——</text>
<text x="840.5" y="224.5" font-family='"Liberation Serif","Noto Serif CJK SC",serif' font-size="11.5" font-weight="900" text-anchor="middle" fill="#111" stroke="#111" stroke-width="0.7">√</text>
<line x1="155.625" y1="523" x2="888.125" y2="523" stroke="#262626" stroke-width="1.15"/>
<line x1="155.625" y1="581.4" x2="888.125" y2="581.4" stroke="#262626" stroke-width="1.15"/>
<line x1="155.625" y1="610.6" x2="888.125" y2="610.6" stroke="#262626" stroke-width="1.15"/>
<line x1="156.2" y1="523" x2="156.2" y2="610.6" stroke="#262626" stroke-width="1.15"/>
<line x1="192.7" y1="523" x2="192.7" y2="610.6" stroke="#262626" stroke-width="1.15"/>
<line x1="229.2" y1="523" x2="229.2" y2="610.6" stroke="#262626" stroke-width="1.15"/>
<line x1="302.35" y1="523" x2="302.35" y2="610.6" stroke="#262626" stroke-width="1.15"/>
<line x1="375.5" y1="523" x2="375.5" y2="610.6" stroke="#262626" stroke-width="1.15"/>
<line x1="448.65" y1="523" x2="448.65" y2="610.6" stroke="#262626" stroke-width="1.15"/>
<line x1="521.8" y1="523" x2="521.8" y2="610.6" stroke="#262626" stroke-width="1.15"/>
<line x1="594.95" y1="523" x2="594.95" y2="610.6" stroke="#262626" stroke-width="1.15"/>
<line x1="668.1" y1="523" x2="668.1" y2="610.6" stroke="#262626" stroke-width="1.15"/>
<line x1="741.25" y1="523" x2="741.25" y2="610.6" stroke="#262626" stroke-width="1.15"/>
<line x1="814.4" y1="523" x2="814.4" y2="610.6" stroke="#262626" stroke-width="1.15"/>
<line x1="887.55" y1="523" x2="887.55" y2="610.6" stroke="#262626" stroke-width="1.15"/>
<text x="174.4" y="540.3" font-family='"Liberation Serif","Noto Serif CJK SC",serif' font-size="12.6" font-weight="900" text-anchor="middle" fill="#111" stroke="#111" stroke-width="0.42">编号</text>
<text x="174.4" y="598.4" font-family='"Liberation Serif","Noto Serif CJK SC",serif' font-size="13.8" font-weight="900" text-anchor="middle" fill="#111" textLength="15" lengthAdjust="spacingAndGlyphs" stroke="#111" stroke-width="0.42">[1]</text>
<text x="210.9" y="540.3" font-family='"Liberation Serif","Noto Serif CJK SC",serif' font-size="12.6" font-weight="900" text-anchor="middle" fill="#111" stroke="#111" stroke-width="0.42">尺寸</text>
<text x="210.9" y="567.8" font-family='"Liberation Serif","Noto Serif CJK SC",serif' font-size="13" font-weight="900" text-anchor="middle" fill="#111" textLength="12.5" lengthAdjust="spacingAndGlyphs" stroke="#111" stroke-width="1.0">mm</text>
<text x="210.9" y="598.4" font-family='"Liberation Serif","Noto Serif CJK SC",serif' font-size="13.8" font-weight="900" text-anchor="middle" fill="#111" textLength="12.5" lengthAdjust="spacingAndGlyphs" stroke="#111" stroke-width="0.42">25</text>
<text x="265.8" y="540.3" font-family='"Liberation Serif","Noto Serif CJK SC",serif' font-size="12.6" font-weight="900" text-anchor="middle" fill="#111" stroke="#111" stroke-width="0.42">测试视场角</text>
<text x="265.8" y="568.3" font-family='"Liberation Serif","Noto Serif CJK SC",serif' font-size="13.2" font-weight="900" text-anchor="middle" fill="#111" textLength="36" lengthAdjust="spacingAndGlyphs" stroke="#111" stroke-width="0.42">(mrad)</text>
<text x="265.8" y="598.4" font-family='"Liberation Serif","Noto Serif CJK SC",serif' font-size="13.8" font-weight="900" text-anchor="middle" fill="#111" textLength="25.5" lengthAdjust="spacingAndGlyphs" stroke="#111" stroke-width="0.42">11.0</text>
<text x="338.9" y="540.3" font-family='"Liberation Serif","Noto Serif CJK SC",serif' font-size="12.6" font-weight="900" text-anchor="middle" fill="#111" stroke="#111" stroke-width="0.42">测试距离</text>
<text x="338.9" y="568.3" font-family='"Liberation Serif","Noto Serif CJK SC",serif' font-size="13.2" font-weight="900" text-anchor="middle" fill="#111" textLength="31" lengthAdjust="spacingAndGlyphs" stroke="#111" stroke-width="0.42">d(mm)</text>
<text x="338.9" y="598.4" font-family='"Liberation Serif","Noto Serif CJK SC",serif' font-size="13.8" font-weight="900" text-anchor="middle" fill="#111" textLength="19.5" lengthAdjust="spacingAndGlyphs" stroke="#111" stroke-width="0.42">200</text>
<text x="412.1" y="540.3" font-family='"Liberation Serif","Noto Serif CJK SC",serif' font-size="12.6" font-weight="900" text-anchor="middle" fill="#111" stroke="#111" stroke-width="0.42">测试照度</text>
<text x="412.1" y="568.3" font-family='"Liberation Serif","Noto Serif CJK SC",serif' font-size="13.2" font-weight="900" text-anchor="middle" fill="#111" textLength="31" lengthAdjust="spacingAndGlyphs" stroke="#111" stroke-width="0.42">E(lx)</text>
<text x="412.1" y="598.4" font-family='"Liberation Serif","Noto Serif CJK SC",serif' font-size="13.8" font-weight="900" text-anchor="middle" fill="#111" textLength="25.5" lengthAdjust="spacingAndGlyphs" stroke="#111" stroke-width="0.42">7370</text>
<text x="485.2" y="540.3" font-family='"Liberation Serif","Noto Serif CJK SC",serif' font-size="12.6" font-weight="900" text-anchor="middle" fill="#111" stroke="#111" stroke-width="0.42">直径</text>
<text x="485.2" y="568.3" font-family='"Liberation Serif","Noto Serif CJK SC",serif' font-size="13.2" font-weight="900" text-anchor="middle" fill="#111" textLength="31" lengthAdjust="spacingAndGlyphs" stroke="#111" stroke-width="0.42">D(mm)</text>
<text x="485.2" y="598.4" font-family='"Liberation Serif","Noto Serif CJK SC",serif' font-size="13.8" font-weight="900" text-anchor="middle" fill="#111" textLength="19" lengthAdjust="spacingAndGlyphs" stroke="#111" stroke-width="0.42">2.2</text>
<text x="558.4" y="540.3" font-family='"Liberation Serif","Noto Serif CJK SC",serif' font-size="12.6" font-weight="900" text-anchor="middle" fill="#111" stroke="#111" stroke-width="0.42">测试亮度</text>
<text x="558.4" y="568.3" font-family='"Liberation Serif","Noto Serif CJK SC",serif' font-size="13.2" font-weight="900" text-anchor="middle" fill="#111" textLength="58" lengthAdjust="spacingAndGlyphs" stroke="#111" stroke-width="0.42">Lv(cd/m2)</text>
<text x="558.4" y="598.4" font-family='"Liberation Serif","Noto Serif CJK SC",serif' font-size="13.8" font-weight="900" text-anchor="middle" fill="#111" textLength="65" lengthAdjust="spacingAndGlyphs" stroke="#111" stroke-width="0.42">6.450e+003</text>
<text x="631.5" y="540.3" font-family='"Liberation Serif","Noto Serif CJK SC",serif' font-size="12.6" font-weight="900" text-anchor="middle" fill="#111" stroke="#111" stroke-width="0.42">蓝光危害</text>
<text x="631.5" y="568.3" font-family='"Liberation Serif","Noto Serif CJK SC",serif' font-size="13.2" font-weight="900" text-anchor="middle" fill="#111" textLength="70.5" lengthAdjust="spacingAndGlyphs" stroke="#111" stroke-width="0.42">Lb(W/m2/sr)</text>
<text x="631.5" y="598.4" font-family='"Liberation Serif","Noto Serif CJK SC",serif' font-size="13.8" font-weight="900" text-anchor="middle" fill="#111" textLength="65" lengthAdjust="spacingAndGlyphs" stroke="#111" stroke-width="0.42">3.184e+000</text>
<text x="704.7" y="540.3" font-family='"Liberation Serif","Noto Serif CJK SC",serif' font-size="12.6" font-weight="900" text-anchor="middle" fill="#111" stroke="#111" stroke-width="0.42">最大允许</text>
<text x="704.7" y="568.3" font-family='"Liberation Serif","Noto Serif CJK SC",serif' font-size="13.2" font-weight="900" text-anchor="middle" fill="#111" textLength="69" lengthAdjust="spacingAndGlyphs" stroke="#111" stroke-width="0.42">照射时间(s)</text>
<text x="704.7" y="598.4" font-family='"Liberation Serif","Noto Serif CJK SC",serif' font-size="13.8" font-weight="900" text-anchor="middle" fill="#111" textLength="38.5" lengthAdjust="spacingAndGlyphs" stroke="#111" stroke-width="0.42">314097</text>
<text x="777.8" y="540.3" font-family='"Liberation Serif","Noto Serif CJK SC",serif' font-size="12.6" font-weight="900" text-anchor="middle" fill="#111" stroke="#111" stroke-width="0.42">色温</text>
<text x="777.8" y="568.3" font-family='"Liberation Serif","Noto Serif CJK SC",serif' font-size="13.2" font-weight="900" text-anchor="middle" fill="#111" textLength="18" lengthAdjust="spacingAndGlyphs" stroke="#111" stroke-width="0.42">(K)</text>
<text x="777.8" y="598.4" font-family='"Liberation Serif","Noto Serif CJK SC",serif' font-size="13.8" font-weight="900" text-anchor="middle" fill="#111" textLength="25.5" lengthAdjust="spacingAndGlyphs" stroke="#111" stroke-width="0.42">3893</text>
<text x="851.0" y="540.3" font-family='"Liberation Serif","Noto Serif CJK SC",serif' font-size="12.6" font-weight="900" text-anchor="middle" fill="#111" textLength="12.5" lengthAdjust="spacingAndGlyphs" stroke="#111" stroke-width="0.42">Eb</text>
<text x="851.0" y="568.3" font-family='"Liberation Serif","Noto Serif CJK SC",serif' font-size="13.2" font-weight="900" text-anchor="middle" fill="#111" textLength="38" lengthAdjust="spacingAndGlyphs" stroke="#111" stroke-width="0.42">(W/m2)</text>
<text x="851.0" y="598.4" font-family='"Liberation Serif","Noto Serif CJK SC",serif' font-size="13.8" font-weight="900" text-anchor="middle" fill="#111" textLength="65" lengthAdjust="spacingAndGlyphs" stroke="#111" stroke-width="0.42">3.638e+000</text>
<line x1="155.625" y1="616.4" x2="563.475" y2="616.4" stroke="#262626" stroke-width="1.15"/>
<line x1="155.625" y1="646.3" x2="563.475" y2="646.3" stroke="#262626" stroke-width="1.15"/>
<line x1="155.625" y1="674.7" x2="563.475" y2="674.7" stroke="#262626" stroke-width="1.15"/>
<line x1="156.2" y1="616.4" x2="156.2" y2="674.7" stroke="#262626" stroke-width="1.15"/>
<line x1="195.6" y1="616.4" x2="195.6" y2="674.7" stroke="#262626" stroke-width="1.15"/>
<line x1="247.7" y1="616.4" x2="247.7" y2="674.7" stroke="#262626" stroke-width="1.15"/>
<line x1="300.3" y1="616.4" x2="300.3" y2="674.7" stroke="#262626" stroke-width="1.15"/>
<line x1="404.6" y1="616.4" x2="404.6" y2="674.7" stroke="#262626" stroke-width="1.15"/>
<line x1="562.9" y1="616.4" x2="562.9" y2="674.7" stroke="#262626" stroke-width="1.15"/>
<text x="175.9" y="636.2" font-family='"Liberation Serif","Noto Serif CJK SC",serif' font-size="12.6" font-weight="900" text-anchor="middle" fill="#111" stroke="#111" stroke-width="0.42">编号</text>
<text x="175.9" y="665.5" font-family='"Liberation Serif","Noto Serif CJK SC",serif' font-size="13.8" font-weight="900" text-anchor="middle" fill="#111" textLength="15" lengthAdjust="spacingAndGlyphs" stroke="#111" stroke-width="0.42">[1]</text>
<text x="221.6" y="636.2" font-family='"Liberation Serif","Noto Serif CJK SC",serif' font-size="12.6" font-weight="900" text-anchor="middle" fill="#111" textLength="32" lengthAdjust="spacingAndGlyphs" stroke="#111" stroke-width="0.42">CIE-x</text>
<text x="221.6" y="665.5" font-family='"Liberation Serif","Noto Serif CJK SC",serif' font-size="13.8" font-weight="900" text-anchor="middle" fill="#111" textLength="38.5" lengthAdjust="spacingAndGlyphs" stroke="#111" stroke-width="0.42">0.3855</text>
<text x="274.0" y="636.2" font-family='"Liberation Serif","Noto Serif CJK SC",serif' font-size="12.6" font-weight="900" text-anchor="middle" fill="#111" textLength="32" lengthAdjust="spacingAndGlyphs" stroke="#111" stroke-width="0.42">CIE-y</text>
<text x="274.0" y="665.5" font-family='"Liberation Serif","Noto Serif CJK SC",serif' font-size="13.8" font-weight="900" text-anchor="middle" fill="#111" textLength="38.5" lengthAdjust="spacingAndGlyphs" stroke="#111" stroke-width="0.42">0.3804</text>
<text x="352.5" y="636.2" font-family='"Liberation Serif","Noto Serif CJK SC",serif' font-size="12.6" font-weight="900" text-anchor="middle" fill="#111" textLength="88" lengthAdjust="spacingAndGlyphs" stroke="#111" stroke-width="0.42">对边角α(mrad)</text>
<text x="352.5" y="665.5" font-family='"Liberation Serif","Noto Serif CJK SC",serif' font-size="13.8" font-weight="900" text-anchor="middle" fill="#111" textLength="52" lengthAdjust="spacingAndGlyphs" stroke="#111" stroke-width="0.42">&gt;0.1 rad</text>
<text x="483.8" y="636.2" font-family='"Liberation Serif","Noto Serif CJK SC",serif' font-size="12.6" font-weight="900" text-anchor="middle" fill="#111" textLength="129" lengthAdjust="spacingAndGlyphs" stroke="#111" stroke-width="0.42">100 mard Lb(W/m2/sr)</text>
<text x="483.8" y="665.5" font-family='"Liberation Serif","Noto Serif CJK SC",serif' font-size="13.8" font-weight="900" text-anchor="middle" fill="#111" textLength="65" lengthAdjust="spacingAndGlyphs" stroke="#111" stroke-width="0.42">2.981e+000</text>
<rect x="714.4" y="205.5" width="73.6" height="26.4" rx="2" fill="none" stroke="#e0474d" stroke-width="3"/>
<rect x="593.5" y="581.5" width="76.2" height="29.7" rx="2" fill="none" stroke="#e0474d" stroke-width="3"/>
<line x1="243.7" y1="711.3" x2="243.7" y2="814" stroke="#5ea557" stroke-width="1.1"/>
<line x1="387.5" y1="711.3" x2="387.5" y2="814" stroke="#5ea557" stroke-width="1.1"/>
<line x1="531.1" y1="711.3" x2="531.1" y2="814" stroke="#5ea557" stroke-width="1.1"/>
<line x1="673.7" y1="711.3" x2="673.7" y2="814" stroke="#5ea557" stroke-width="1.1"/>
<line x1="763.9" y1="711.3" x2="763.9" y2="814" stroke="#5ea557" stroke-width="1.1"/>
<line x1="243" y1="711.9" x2="764.5" y2="711.9" stroke="#5ea557" stroke-width="1.2"/>
<line x1="243" y1="790.8" x2="764.5" y2="790.8" stroke="#5ea557" stroke-width="1.2"/>
<line x1="238.7" y1="711.4" x2="238.7" y2="814" stroke="#222" stroke-width="1"/>
<line x1="233" y1="711.9" x2="239" y2="711.9" stroke="#222" stroke-width="1"/>
<line x1="235.5" y1="751.3" x2="239" y2="751.3" stroke="#222" stroke-width="1"/>
<line x1="233" y1="790.8" x2="239" y2="790.8" stroke="#222" stroke-width="1"/>
<text x="227.4" y="716.4" font-family='"Liberation Sans","Noto Sans CJK SC",sans-serif' font-size="12.2" text-anchor="end" fill="#333" textLength="34.2" lengthAdjust="spacingAndGlyphs">1.0000</text>
<text x="227.4" y="795.3" font-family='"Liberation Sans","Noto Sans CJK SC",sans-serif' font-size="12.2" text-anchor="end" fill="#333" textLength="34.2" lengthAdjust="spacingAndGlyphs">0.5000</text>
<text transform="translate(182,790) rotate(-90)" font-family='"Liberation Sans","Noto Sans CJK SC",sans-serif' font-size="15" letter-spacing="0.7" text-anchor="middle" fill="#444">相对光谱</text>
<text x="520" y="708.5" font-family='"Liberation Sans","Noto Sans CJK SC",sans-serif' font-size="15.8" font-weight="bold" text-anchor="middle" fill="#111">相对光谱</text>
<rect x="770.6" y="731.4" width="13.2" height="3" fill="#111"/>
<text x="790.3" y="737.8" font-family='"Liberation Sans","Noto Sans CJK SC",sans-serif' font-size="12.7" font-weight="500" fill="#3a3a3a">光源相对光谱</text>
<path d="M327.9,815 L328.2,803.7 L328.9,795.3 L330.3,791.1 L332.4,786.9 L334.5,783.8 L336.6,784.8 L338.7,785.5 L339.7,781.3 L341.1,775 L343.6,770.7 L347.1,768.6 L352,768.6 L356.2,765.1 L360.4,758.8 L364.6,752.5 L369.5,749 L375.8,749 L380.7,746.9 L385,740.6 L387.8,733.6 L391.3,722.4 L394.1,714.7 L396.2,712.6 L399.7,712.6 L402.5,718.2 L406,725.9 L410.2,742 L413.7,758.8 L417.2,774.3 L420,791.1 L422.1,803.7 L424.2,815" fill="none" stroke="#111" stroke-width="2.15" stroke-linejoin="round" stroke-linecap="round"/>
<svg x="955" y="400" width="18.4" height="195" viewBox="955 400 18.4 195" overflow="hidden">
<rect x="955" y="400" width="19" height="195" fill="#fff"/>
<path d="M955.3,406.2 L973.5,408 L973.5,412.2 L955.3,411 Z" fill="#f0404a"/>
<path d="M955.3,582.6 L973.5,581.2 L973.5,586.2 L955.3,588 Z" fill="#f0404a"/>
<path d="M955.3,465 L962,484 L974,484 L974,489 L966.7,495 L969.5,505 L974,517 L955.3,504 Z" fill="#f0404a"/>
<text transform="translate(957,439.5) skewX(-14) scale(0.78,1)" font-family='"Liberation Serif","Noto Serif CJK SC",serif' font-size="27" fill="#c9626b" stroke="#c9626b" stroke-width="0.5">股</text>
<text transform="translate(943.5,559) scale(0.66,1)" font-family='"Liberation Serif","Noto Serif CJK SC",serif' font-size="30" fill="#c9626b" stroke="#c9626b" stroke-width="0.45">测</text>
<text transform="translate(964.3,559) scale(0.66,1)" font-family='"Liberation Serif","Noto Serif CJK SC",serif' font-size="30" fill="#c9626b" stroke="#c9626b" stroke-width="0.45">专</text>
</svg>
<rect x="816.9" y="685.7" width="80.2" height="22.6" rx="3.5" fill="#fff" stroke="#c9c9cc" stroke-width="1"/>
<g fill="none" stroke="#3a3a3a" stroke-width="1.2"><path d="M824.6,690.7 H821.4 V694"/><path d="M831.4,690.7 H834.6 V694"/><path d="M824.6,703.3 H821.4 V700"/><path d="M831.4,703.3 H834.6 V700"/></g>
<path d="M828,692.6 Q828.6,696.3 832.2,697 Q828.6,697.7 828,701.4 Q827.4,697.7 823.8,697 Q827.4,696.3 828,692.6 Z" fill="#fff" stroke="#7a5cc4" stroke-width="1.3" stroke-linejoin="round"/>
<text x="840" y="701.2" font-family='"Liberation Sans","Noto Sans CJK SC",sans-serif' font-size="11.8" font-weight="500" fill="#2e2e2e" textLength="35.5" lengthAdjust="spacingAndGlyphs">AI识图</text>
<path d="M885.4,696.2 L888.1,698.7 L890.8,696.2" fill="none" stroke="#333" stroke-width="1.3"/>
</svg></body></html>
